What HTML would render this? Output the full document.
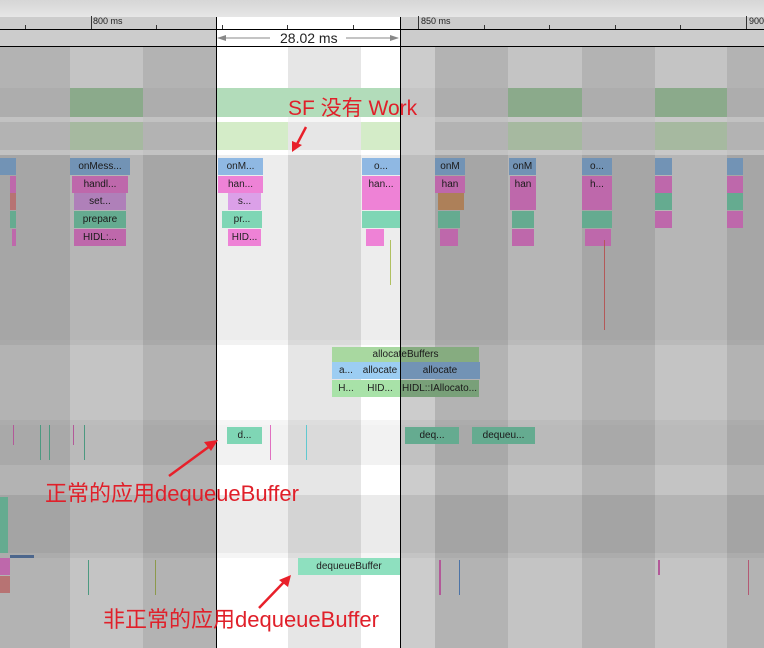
<!DOCTYPE html>
<html><head><meta charset="utf-8"><style>
*{margin:0;padding:0;box-sizing:border-box}
body{width:764px;height:648px;overflow:hidden;position:relative;background:#fff;font-family:"Liberation Sans","Noto Sans CJK SC",sans-serif}
div{position:absolute}
.s{font-size:10px;color:#222;text-align:center;white-space:nowrap;overflow:hidden;line-height:17px;height:17px}
.b{background:#8fb8e3}.p{background:#ee82d6}.v{background:#dba0e8}.t{background:#7fd6b5}.g{background:#a8d8a0}
.ann{color:#e0202a;white-space:nowrap}
</style></head><body>
<div style="left:0;top:0;width:764px;height:17px;background:linear-gradient(#d6d6d6,#e6e6e6)"></div>
<div style="left:0;top:17px;width:764px;height:12px;background:#fff"></div>
<div style="left:0;top:29px;width:764px;height:1px;background:#000"></div>
<div style="left:0;top:30px;width:764px;height:17px;background:#fff"></div>
<div style="left:0;top:46px;width:764px;height:1px;background:#000"></div>
<div style="left:0;top:47px;width:70px;height:601px;background:#e0e0e0"></div>
<div style="left:70px;top:47px;width:73px;height:601px;background:#f6f6f6"></div>
<div style="left:143px;top:47px;width:73px;height:601px;background:#e0e0e0"></div>
<div style="left:216px;top:47px;width:72px;height:601px;background:#fff"></div>
<div style="left:288px;top:47px;width:73px;height:601px;background:#e6e6e6"></div>
<div style="left:361px;top:47px;width:74px;height:601px;background:#fff"></div>
<div style="left:435px;top:47px;width:73px;height:601px;background:#e0e0e0"></div>
<div style="left:508px;top:47px;width:74px;height:601px;background:#f6f6f6"></div>
<div style="left:582px;top:47px;width:73px;height:601px;background:#e0e0e0"></div>
<div style="left:655px;top:47px;width:72px;height:601px;background:#f6f6f6"></div>
<div style="left:727px;top:47px;width:37px;height:601px;background:#e0e0e0"></div>
<div style="left:70px;top:88px;width:73px;height:29px;background:#b4dcb4"></div>
<div style="left:216px;top:88px;width:184px;height:29px;background:#b8e4c0"></div>
<div style="left:508px;top:88px;width:74px;height:29px;background:#b4dcb4"></div>
<div style="left:655px;top:88px;width:72px;height:29px;background:#b4dcb4"></div>
<div style="left:0;top:88px;width:764px;height:29px;background:rgba(0,0,0,0.03)"></div>
<div style="left:70px;top:122px;width:73px;height:28px;background:#d0e8c8"></div>
<div style="left:216px;top:122px;width:72px;height:28px;background:#d4ecc8"></div>
<div style="left:361px;top:122px;width:39px;height:28px;background:#d4ecc8"></div>
<div style="left:508px;top:122px;width:74px;height:28px;background:#d0e8c8"></div>
<div style="left:655px;top:122px;width:72px;height:28px;background:#d0e8c8"></div>
<div style="left:0;top:155px;width:764px;height:185px;background:rgba(0,0,0,0.07)"></div>
<div style="left:0;top:425px;width:764px;height:40px;background:rgba(0,0,0,0.05)"></div>
<div style="left:0;top:495px;width:764px;height:58px;background:rgba(0,0,0,0.08)"></div>
<div style="left:0;top:117px;width:764px;height:5px;background:rgba(255,255,255,0.6)"></div>
<div style="left:0;top:150px;width:764px;height:5px;background:rgba(255,255,255,0.6)"></div>
<div style="left:0;top:340px;width:764px;height:5px;background:rgba(0,0,0,0.05)"></div>
<div style="left:0;top:420px;width:764px;height:5px;background:rgba(0,0,0,0.04)"></div>
<div style="left:0;top:553px;width:764px;height:5px;background:rgba(0,0,0,0.04)"></div>

<div class="s b" style="left:70px;top:158px;width:60px">onMess...</div>
<div class="s p" style="left:72px;top:176px;width:56px">handl...</div>
<div class="s v" style="left:74px;top:193px;width:52px">set...</div>
<div class="s t" style="left:74px;top:211px;width:52px">prepare</div>
<div class="s p" style="left:74px;top:229px;width:52px">HIDL:...</div>
<div class="s b" style="left:0;top:158px;width:16px"></div>
<div class="s p" style="left:10px;top:176px;width:6px"></div>
<div class="s t" style="left:10px;top:193px;width:6px;background:#e59090"></div>
<div class="s t" style="left:10px;top:211px;width:6px"></div>
<div class="s p" style="left:12px;top:229px;width:4px"></div>

<div class="s b" style="left:218px;top:158px;width:45px">onM...</div>
<div class="s p" style="left:218px;top:176px;width:45px">han...</div>
<div class="s v" style="left:228px;top:193px;width:33px">s...</div>
<div class="s t" style="left:222px;top:211px;width:40px">pr...</div>
<div class="s p" style="left:228px;top:229px;width:33px">HID...</div>
<div class="s b" style="left:362px;top:158px;width:38px">o...</div>
<div class="s p" style="left:362px;top:176px;width:38px">han...</div>
<div class="s p" style="left:362px;top:193px;width:38px"></div>
<div class="s t" style="left:362px;top:211px;width:38px"></div>
<div class="s p" style="left:366px;top:229px;width:18px"></div>

<div class="s b" style="left:435px;top:158px;width:30px">onM</div>
<div class="s p" style="left:435px;top:176px;width:30px">han</div>
<div class="s p" style="left:438px;top:193px;width:26px;background:#d9a070"></div>
<div class="s t" style="left:438px;top:211px;width:22px"></div>
<div class="s p" style="left:440px;top:229px;width:18px"></div>
<div class="s b" style="left:509px;top:158px;width:27px">onM</div>
<div class="s p" style="left:510px;top:176px;width:26px">han</div>
<div class="s p" style="left:510px;top:193px;width:26px"></div>
<div class="s t" style="left:512px;top:211px;width:22px"></div>
<div class="s p" style="left:512px;top:229px;width:22px"></div>
<div class="s b" style="left:582px;top:158px;width:30px">o...</div>
<div class="s p" style="left:582px;top:176px;width:30px">h...</div>
<div class="s p" style="left:582px;top:193px;width:30px"></div>
<div class="s t" style="left:582px;top:211px;width:30px"></div>
<div class="s p" style="left:585px;top:229px;width:26px"></div>
<div class="s b" style="left:655px;top:158px;width:17px"></div>
<div class="s p" style="left:655px;top:176px;width:17px"></div>
<div class="s t" style="left:655px;top:193px;width:17px"></div>
<div class="s p" style="left:655px;top:211px;width:17px"></div>
<div class="s b" style="left:727px;top:158px;width:16px"></div>
<div class="s p" style="left:727px;top:176px;width:16px"></div>
<div class="s t" style="left:727px;top:193px;width:16px"></div>
<div class="s p" style="left:727px;top:211px;width:16px"></div>

<div class="s g" style="left:332px;top:347px;width:147px;height:15px;line-height:15px">allocateBuffers</div>
<div class="s b" style="left:332px;top:362px;width:28px;background:#9ccdf2">a...</div>
<div class="s b" style="left:360px;top:362px;width:40px;background:#9ccdf2">allocate</div>
<div class="s b" style="left:400px;top:362px;width:80px">allocate</div>
<div class="s g" style="left:332px;top:380px;width:28px;background:#a8e2a8">H...</div>
<div class="s g" style="left:360px;top:380px;width:40px;background:#a8e2a8">HID...</div>
<div class="s g" style="left:400px;top:380px;width:79px;background:#98c898">HIDL::IAllocato...</div>

<div class="s t" style="left:227px;top:427px;width:35px">d...</div>
<div class="s t" style="left:405px;top:427px;width:54px">deq...</div>
<div class="s t" style="left:472px;top:427px;width:63px">dequeu...</div>
<div class="s t" style="left:298px;top:558px;width:102px;background:#8ee0bf">dequeueBuffer</div>
<div class="s t" style="left:0;top:497px;width:8px;height:56px"></div>
<div class="s p" style="left:0;top:558px;width:10px"></div>
<div class="s p" style="left:0;top:576px;width:10px;background:#e59090"></div>
<div style="left:10px;top:555px;width:24px;height:3px;background:#6080b0"></div>

<div style="left:13px;top:425px;width:1px;height:20px;background:#e070c0"></div>
<div style="left:40px;top:425px;width:1px;height:35px;background:#60c0a0"></div>
<div style="left:49px;top:425px;width:1px;height:35px;background:#60c0a0"></div>
<div style="left:73px;top:425px;width:1px;height:20px;background:#e070c0"></div>
<div style="left:84px;top:425px;width:1px;height:35px;background:#60c0a0"></div>
<div style="left:270px;top:425px;width:1px;height:35px;background:#e070c0"></div>
<div style="left:306px;top:425px;width:1px;height:35px;background:#60c8d0"></div>
<div style="left:390px;top:240px;width:1px;height:45px;background:#b0c060"></div>
<div style="left:604px;top:240px;width:1px;height:90px;background:#e07070"></div>
<div style="left:439px;top:560px;width:2px;height:35px;background:#e070c0"></div>
<div style="left:459px;top:560px;width:1px;height:35px;background:#6090d0"></div>
<div style="left:658px;top:560px;width:2px;height:15px;background:#e070c0"></div>
<div style="left:748px;top:560px;width:1px;height:35px;background:#e07090"></div>
<div style="left:88px;top:560px;width:1px;height:35px;background:#60c0a0"></div>
<div style="left:155px;top:560px;width:1px;height:35px;background:#b0c060"></div>

<div style="left:0;top:17px;width:216px;height:631px;background:rgba(0,0,0,0.2)"></div>
<div style="left:401px;top:17px;width:363px;height:631px;background:rgba(0,0,0,0.2)"></div>

<div style="left:91px;top:16px;width:1px;height:13px;background:#333"></div>
<div style="left:93px;top:16px;font-size:9px;color:#222">800 ms</div>
<div style="left:418px;top:16px;width:1px;height:13px;background:#333"></div>
<div style="left:421px;top:16px;font-size:9px;color:#222">850 ms</div>
<div style="left:746px;top:16px;width:1px;height:13px;background:#333"></div>
<div style="left:749px;top:16px;font-size:9px;color:#222">900</div>
<div style="left:25px;top:25px;width:1px;height:4px;background:#333"></div>
<div style="left:156px;top:25px;width:1px;height:4px;background:#333"></div>
<div style="left:222px;top:25px;width:1px;height:4px;background:#333"></div>
<div style="left:287px;top:25px;width:1px;height:4px;background:#333"></div>
<div style="left:353px;top:25px;width:1px;height:4px;background:#333"></div>
<div style="left:484px;top:25px;width:1px;height:4px;background:#333"></div>
<div style="left:549px;top:25px;width:1px;height:4px;background:#333"></div>
<div style="left:615px;top:25px;width:1px;height:4px;background:#333"></div>
<div style="left:680px;top:25px;width:1px;height:4px;background:#333"></div>
<svg style="position:absolute;left:0;top:0" width="764" height="648">
<line x1="218" y1="38" x2="270" y2="38" stroke="#888"/><line x1="346" y1="38" x2="398" y2="38" stroke="#888"/>
<polygon points="217,38 226,35 226,41" fill="#888"/><polygon points="399,38 390,35 390,41" fill="#888"/>
<line x1="216.5" y1="17" x2="216.5" y2="648" stroke="#000"/>
<line x1="400.5" y1="17" x2="400.5" y2="648" stroke="#000"/>
<g stroke="#e8202a" stroke-width="2.5" fill="#e8202a">
<line x1="306" y1="127" x2="296" y2="146"/><polygon points="292,152 292,141 302,145" stroke="none"/>
<line x1="169" y1="476" x2="210" y2="446"/><polygon points="218,440 211,451 204,442" stroke="none"/>
<line x1="259" y1="608" x2="284" y2="582"/><polygon points="291,575 288,587 279,580" stroke="none"/>
</g>
</svg>
<div style="left:280px;top:30px;font-size:14px;color:#222">28.02 ms</div>
<div class="ann" style="left:288px;top:92px;font-size:21px">SF 没有 Work</div>
<div class="ann" style="left:45px;top:476px;font-size:22px">正常的应用dequeueBuffer</div>
<div class="ann" style="left:103px;top:602px;font-size:22px">非正常的应用dequeueBuffer</div>
</body></html>
